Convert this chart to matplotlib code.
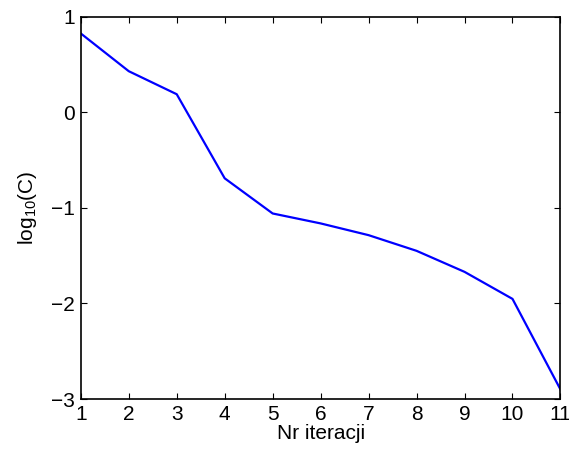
import matplotlib
matplotlib.use("Agg")
import matplotlib.pyplot as plt

# Dane
iteracje = [1, 2, 3, 4, 5, 6, 7, 8, 9, 10, 11]
log_c = [0.826, 0.431, 0.19, -0.69, -1.058, -1.162, -1.285, -1.449, -1.669, -1.952, -2.90]
x_ticks = list(range(1, 12))
y_ticks = [-3, -2, -1, 0, 1]

plt.rcParams["font.family"] = ["Liberation Sans", "DejaVu Sans"]
plt.rcParams["mathtext.default"] = "regular"

fig = plt.figure(figsize=(5.69, 4.55), dpi=100)
ax = fig.add_axes([0.142, 0.123, 0.843, 0.840])

ax.plot(iteracje, log_c, color="#0000ff", linewidth=1.6)

ax.set_xlim(1, 11)
ax.set_ylim(-3, 1)
ax.set_xticks(x_ticks)
ax.set_yticks(y_ticks)
ax.set_yticklabels(["\u22123", "\u22122", "\u22121", "0", "1"])
ax.tick_params(direction="in", top=True, right=True, length=4.5, width=0.8,
               labelsize=15, pad=4)
for s in ax.spines.values():
    s.set_linewidth(1.2)

ax.set_xlabel("Nr iteracji", fontsize=15, labelpad=0)
ax.set_ylabel("log$_{10}$(C)", fontsize=15, labelpad=9)

fig.savefig("out.png", dpi=100)
